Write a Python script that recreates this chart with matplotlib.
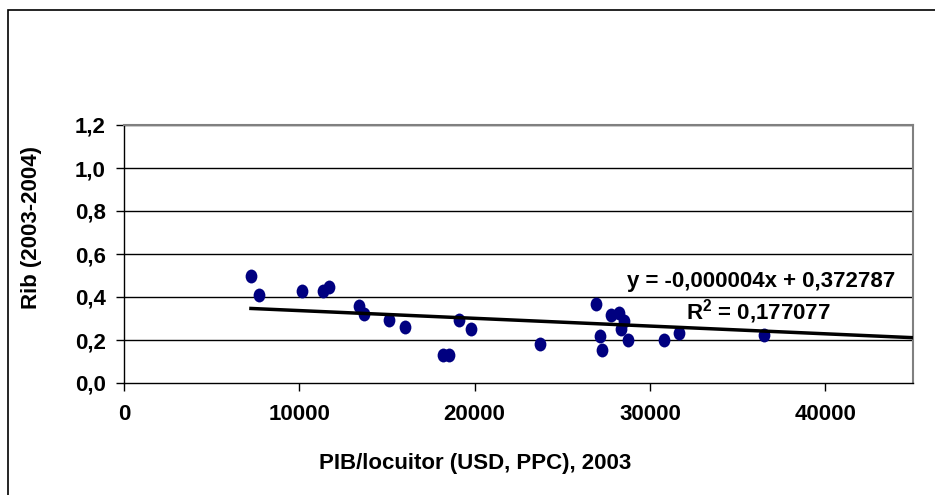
import numpy as np
import matplotlib
matplotlib.use('Agg')
import matplotlib.pyplot as plt
from matplotlib.patches import Rectangle
from matplotlib.path import Path
from matplotlib.ticker import FuncFormatter

plt.rcParams['font.family'] = ['Liberation Sans', 'DejaVu Sans']
plt.rcParams['font.weight'] = 'bold'
plt.rcParams['mathtext.fontset'] = 'custom'
plt.rcParams['mathtext.rm'] = 'Liberation Sans:bold'
plt.rcParams['mathtext.bf'] = 'Liberation Sans:bold'

# PIB/locuitor (USD, PPC), 2003
pib = [7240, 7700, 10150, 11350, 11700, 13380, 13700, 15130, 16040, 18190,
       18550, 19090, 19810, 23700, 26900, 27140, 27240, 27750, 28230, 28510,
       28330, 28740, 30780, 31640, 36480]
# Rib (2003-2004)
rib = [0.50, 0.41, 0.429, 0.426, 0.448, 0.36, 0.323, 0.295, 0.261, 0.129,
       0.129, 0.292, 0.252, 0.182, 0.368, 0.217, 0.155, 0.315, 0.326, 0.287,
       0.252, 0.202, 0.202, 0.233, 0.225]

# linear trend
slope = -0.0000036
intercept = 0.372787
eq_text = 'y = -0,000004x + 0,372787'
r2_text = r'R$^{\mathbf{2}}$ = 0,177077'

xticks = [0, 10000, 20000, 30000, 40000]
yticks = [0.0, 0.2, 0.4, 0.6, 0.8, 1.0, 1.2]

fig = plt.figure(figsize=(9.35, 4.95), dpi=100)
ax = fig.add_axes([124/935, 1 - 383/495, (913 - 124)/935, (383 - 125)/495])

# outer chart frame
fig.patches.append(Rectangle((8/935, -0.05), 1.1, 1.05 - 10/495,
                             transform=fig.transFigure, fill=False,
                             edgecolor='black', lw=1.2))

for y in yticks[1:]:
    ax.axhline(y, color='black', lw=1, zorder=1)

# elliptical marker, a bit taller than wide
circ = Path.unit_circle()
ell = Path(circ.vertices * np.array([1.0, 1.18]), circ.codes)
ax.scatter(pib, rib, marker=ell, s=100, color='#000080', zorder=3, linewidths=0)

xs = np.array([min(pib), 45000])
ax.plot(xs, slope * xs + intercept, color='black', lw=2.5, zorder=4)

fig.text(895/935, 1 - 281/495, eq_text, ha='right', va='center',
         fontsize=16, fontweight='bold')
fig.text(758/935, 1 - 312/495, r2_text, ha='center', va='center',
         fontsize=16, fontweight='bold')

ax.set_xlim(0, 45000)
ax.set_ylim(0, 1.2)
ax.set_xticks(xticks)
ax.set_yticks(yticks)
ax.yaxis.set_major_formatter(FuncFormatter(lambda v, p: ('%.1f' % v).replace('.', ',')))
ax.tick_params(axis='both', direction='out', length=6, width=1, labelsize=16, colors='black')
ax.tick_params(axis='x', pad=9)
ax.tick_params(axis='y', pad=7)

for s in ['top', 'right']:
    ax.spines[s].set_color('#808080')
    ax.spines[s].set_linewidth(1.5)
for s in ['left', 'bottom']:
    ax.spines[s].set_color('black')
    ax.spines[s].set_linewidth(1)

fig.text(475/935, 1 - 464/495, 'PIB/locuitor (USD, PPC), 2003', ha='center', va='center',
         fontsize=16, fontweight='bold')
fig.text(32/935, 1 - 227/495, 'Rib (2003-2004)', ha='center', va='center',
         rotation=90, fontsize=16, fontweight='bold')

fig.savefig('out.png', dpi=100)
